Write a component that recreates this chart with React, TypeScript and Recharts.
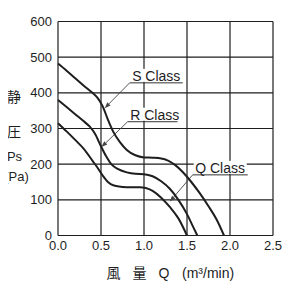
import { LineChart, Line, XAxis, YAxis, CartesianGrid, ReferenceLine } from "recharts";

const flowTicks = [0, 0.5, 1, 1.5, 2, 2.5];
const pressureTicks = [0, 100, 200, 300, 400, 500, 600];

// S Class
const sFlow = [0, 0.1, 0.2, 0.3, 0.4, 0.46, 0.52, 0.58, 0.64, 0.72, 0.8, 0.9, 1.0, 1.1, 1.2, 1.28, 1.36, 1.45, 1.55, 1.65, 1.75, 1.85, 1.93];
const sPressure = [482, 462, 441, 420, 400, 386, 362, 325, 292, 262, 240, 225, 219, 218, 216, 210, 198, 178, 150, 118, 82, 42, 0];

// R Class
const rFlow = [0, 0.1, 0.2, 0.3, 0.37, 0.43, 0.5, 0.56, 0.62, 0.7, 0.8, 0.9, 1.0, 1.1, 1.2, 1.3, 1.4, 1.5, 1.57, 1.62];
const rPressure = [380, 360, 340, 320, 305, 285, 250, 222, 200, 186, 177, 173, 172, 166, 152, 131, 100, 60, 25, 0];

// Q Class
const qFlow = [0, 0.1, 0.2, 0.3, 0.4, 0.46, 0.52, 0.58, 0.65, 0.75, 0.85, 0.95, 1.02, 1.1, 1.2, 1.3, 1.4, 1.5];
const qPressure = [315, 292, 268, 243, 210, 190, 168, 150, 140, 136, 135, 135, 133, 125, 106, 80, 48, 0];

const classNames = ["S Class", "R Class", "Q Class"];

// label anchors (in chart units): underline start/end, arrow tip
const labelAnchors = [
  { x: 0.833, end: 1.45, y: 428, tipX: 0.543, tipY: 357 },
  { x: 0.81, end: 1.39, y: 319, tipX: 0.505, tipY: 248 },
  { x: 1.566, end: 2.206, y: 170, tipX: 1.3, tipY: 95 },
];

const toPoints = (flow: number[], ps: number[]) => flow.map((q, i) => ({ q, ps: ps[i] }));
const series = [toPoints(sFlow, sPressure), toPoints(rFlow, rPressure), toPoints(qFlow, qPressure)];

const font = "'Liberation Sans', Arial, Helvetica, sans-serif";
const cjk = "'Noto Sans CJK JP', 'Noto Sans CJK SC', sans-serif";
const ink = "#1e1e1e";

const underlineShape = (text: string) => (props: any) => {
  const { x1, y1, x2 } = props;
  return (
    <g>
      <rect x={x1 + 1} y={y1 - 14} width={x2 - x1 - 2} height={13} fill="#fff" />
      <text x={x1 + 2.5} y={y1 - 2} fontSize={14} fill={ink} fontFamily={font}>
        {text}
      </text>
      <line x1={x1} y1={y1} x2={x2} y2={y1} stroke="#333" strokeWidth={1} />
    </g>
  );
};

const arrowShape = (props: any) => {
  const { x1, y1, x2, y2 } = props;
  const dx = x2 - x1;
  const dy = y2 - y1;
  const len = Math.hypot(dx, dy) || 1;
  const ux = dx / len;
  const uy = dy / len;
  const bx = x2 - ux * 6;
  const by = y2 - uy * 6;
  const px = -uy * 2.2;
  const py = ux * 2.2;
  return (
    <g>
      <line x1={x1} y1={y1} x2={bx} y2={by} stroke="#444" strokeWidth={0.9} />
      <polygon points={`${x2},${y2} ${bx + px},${by + py} ${bx - px},${by - py}`} fill="#444" />
    </g>
  );
};

const YTitle = ({ viewBox }: any) => {
  const { x, y } = viewBox;
  return (
    <g fill={ink}>
      <text x={x + 6} y={y + 80.5} textAnchor="middle" fontSize={14} fontFamily={cjk}>静</text>
      <text x={x + 6} y={y + 115} textAnchor="middle" fontSize={14} fontFamily={cjk}>圧</text>
      <text x={x + 6.5} y={y + 139} textAnchor="middle" fontSize={13} fontFamily={font}>Ps</text>
      <text x={x + 8.5} y={y + 159} textAnchor="middle" fontSize={13} fontFamily={font}>(Pa)</text>
    </g>
  );
};

const XTitle = ({ viewBox }: any) => {
  const { x, y } = viewBox;
  return (
    <g fill={ink}>
      <text x={x + 55.5} y={y + 42.5} textAnchor="middle" fontSize={14} fontFamily={cjk}>風</text>
      <text x={x + 81.5} y={y + 42.5} textAnchor="middle" fontSize={14} fontFamily={cjk}>量</text>
      <text x={x + 106} y={y + 42.5} textAnchor="middle" fontSize={14} fontFamily={font}>Q</text>
      <text x={x + 124} y={y + 42.5} fontSize={14} fontFamily={font}>(m³/min)</text>
    </g>
  );
};

export default function App() {
  return (
    <div style={{ margin: "-8px 0 0 -8px", width: 290, height: 290 }}>
      <LineChart width={290} height={290} margin={{ top: 21.5, right: 17, bottom: 24.5, left: 8 }}>
        <CartesianGrid stroke={ink} strokeWidth={1.2} />
        <XAxis
          type="number"
          dataKey="q"
          domain={[0, 2.5]}
          ticks={flowTicks}
          tickFormatter={(v) => v.toFixed(1)}
          axisLine={false}
          tickLine={false}
          tickSize={3}
          tickMargin={2}
          height={30}
          tick={{ fill: ink, fontSize: 13, fontFamily: font }}
          label={{ content: XTitle }}
        />
        <YAxis
          type="number"
          domain={[0, 600]}
          ticks={pressureTicks}
          axisLine={false}
          tickLine={false}
          tickSize={4}
          tickMargin={2}
          width={50}
          tick={{ fill: ink, fontSize: 13, fontFamily: font }}
          label={{ content: YTitle }}
        />
        {labelAnchors.map((a, i) => (
          <ReferenceLine
            key={`u${i}`}
            segment={[{ x: a.x, y: a.y }, { x: a.end, y: a.y }]}
            shape={underlineShape(classNames[i])}
          />
        ))}
        {labelAnchors.map((a, i) => (
          <ReferenceLine
            key={`a${i}`}
            segment={[{ x: a.x, y: a.y }, { x: a.tipX, y: a.tipY }]}
            shape={arrowShape}
          />
        ))}
        {series.map((d, i) => (
          <Line
            key={classNames[i]}
            data={d}
            dataKey="ps"
            type="monotone"
            stroke={ink}
            strokeWidth={2}
            dot={false}
            isAnimationActive={false}
          />
        ))}
      </LineChart>
    </div>
  );
}
